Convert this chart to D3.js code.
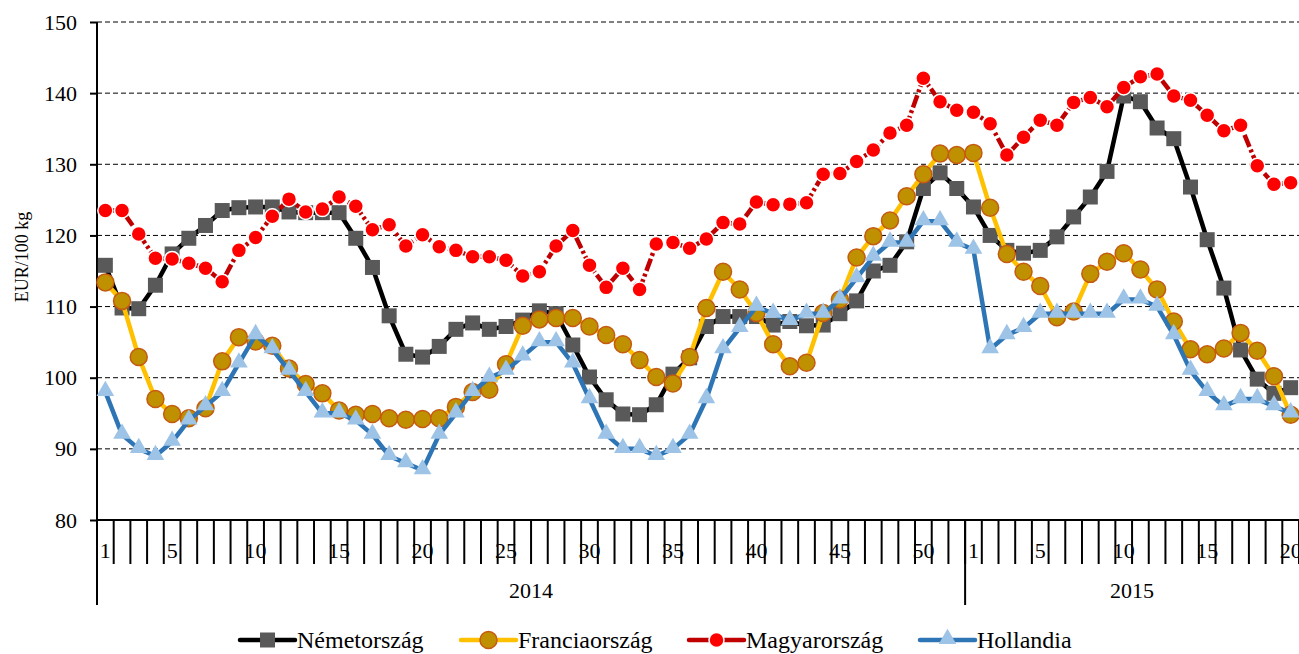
<!DOCTYPE html>
<html>
<head>
<meta charset="utf-8">
<script src="https://cdn.jsdelivr.net/npm/d3@7"></script>
<style>
  body { margin: 0; background: #fff; }
  text { font-family: "Liberation Serif", "Times New Roman", serif; fill: #000; }
</style>
</head>
<body>
<script>
var width = 1299, height = 654;

// categories: weeks of 2014 then 2015
const years = ['2014', '2015'];
const weeks2014 = d3.range(1, 53);
const weeks2015 = d3.range(1, 21);
const yTicks = [80, 90, 100, 110, 120, 130, 140, 150];

// series values, EUR/100 kg
const nemetorszag = [115.8, 109.8, 109.7, 113.0, 117.4, 119.6, 121.4, 123.5, 123.9, 124.0,
  124.0, 123.3, 123.2, 123.2, 123.2, 119.6, 115.5, 108.7, 103.3, 102.9,
  104.4, 106.8, 107.7, 106.8, 107.2, 108.1, 109.4, 109.0, 104.6, 100.1,
  96.9, 94.9, 94.8, 96.2, 100.5, 102.8, 107.2, 108.6, 108.6, 108.6,
  107.4, 107.9, 107.3, 107.4, 109.0, 110.8, 115.0, 115.8, 119.1, 126.6,
  128.8, 126.6,
  124.0, 120.0, 117.9, 117.5, 117.9, 119.8, 122.6, 125.4, 129.0, 139.6,
  138.8, 135.1, 133.6, 126.8, 119.4, 112.6, 103.9, 99.8, 97.8, 98.6];
const franciaorszag = [113.4, 110.8, 102.9, 97.0, 94.9, 94.3, 95.7, 102.3, 105.7, 105.1,
  104.5, 101.3, 99.1, 97.8, 95.4, 94.8, 94.9, 94.3, 94.1, 94.2,
  94.3, 95.9, 98.0, 98.3, 101.9, 107.3, 108.2, 108.4, 108.4, 107.2,
  106.0, 104.7, 102.5, 100.1, 99.2, 102.9, 109.8, 114.9, 112.4, 109.1,
  104.7, 101.6, 102.1, 109.1, 111.0, 116.9, 119.9, 122.1, 125.5, 128.6,
  131.5, 131.3,
  131.6, 123.9, 117.4, 114.9, 112.9, 108.5, 109.3, 114.6, 116.3, 117.5,
  115.2, 112.4, 107.9, 104.0, 103.3, 104.1, 106.3, 103.8, 100.2, 94.8];
const magyarorszag = [123.5, 123.5, 120.2, 116.8, 116.7, 116.1, 115.4, 113.5, 117.9, 119.7,
  122.7, 125.1, 123.3, 123.7, 125.4, 124.1, 120.8, 121.5, 118.5, 120.1,
  118.4, 117.9, 117.0, 117.0, 116.5, 114.3, 114.9, 118.5, 120.7, 115.8,
  112.7, 115.4, 112.4, 118.8, 119.0, 118.2, 119.5, 121.8, 121.6, 124.7,
  124.3, 124.4, 124.6, 128.6, 128.7, 130.4, 132.0, 134.4, 135.5, 142.1,
  138.8, 137.6,
  137.3, 135.7, 131.3, 133.8, 136.2, 135.5, 138.7, 139.4, 138.1, 140.8,
  142.3, 142.7, 139.6, 139.0, 136.9, 134.7, 135.5, 129.8, 127.2, 127.4];
const hollandia = [98, 92, 90, 89, 91, 94, 96, 98, 102, 106,
  104, 101, 98, 95, 95, 94, 92, 89, 88, 87,
  92, 95, 98, 100, 101, 103, 105, 105, 102, 97,
  92, 90, 90, 89, 90, 92, 97, 104, 107, 110,
  109, 108, 109, 109, 111, 114, 117, 119, 119, 122,
  122, 119,
  118, 104, 106, 107, 109, 109, 109, 109, 109, 111,
  111, 110, 106, 101, 98, 96, 97, 97, 96, 95];

const seriesNames = ['Németország', 'Franciaország', 'Magyarország', 'Hollandia'];

function main() {
  var cats = weeks2014.map(w => ({ year: years[0], week: w }))
    .concat(weeks2015.map(w => ({ year: years[1], week: w })));
  var idx = d3.range(cats.length);

  var svg = d3.select('body').append('svg')
    .attr('width', width).attr('height', height);

  var margin = { left: 97, right: 0, top: 22, bottom: 134 };
  var xscale = d3.scaleBand().domain(idx).range([margin.left, width - margin.right]);
  var yscale = d3.scaleLinear().domain([80, 150]).range([height - margin.bottom, margin.top]);
  var y0 = yscale(80);

  // dashed gridlines
  svg.append('g').selectAll('line')
    .data(yTicks.filter(v => v > 80))
    .enter().append('line')
    .attr('x1', margin.left).attr('x2', width)
    .attr('y1', d => yscale(d)).attr('y2', d => yscale(d))
    .attr('stroke', '#000').attr('stroke-width', 1)
    .attr('stroke-dasharray', '5,3');

  // y axis
  var y_axis = d3.axisLeft(yscale).tickValues(yTicks).tickSize(7).tickPadding(13);
  var yg = svg.append('g').attr('transform', 'translate(' + margin.left + ',0)').call(y_axis);
  yg.select('.domain').remove();
  yg.selectAll('line').attr('stroke', '#000').attr('stroke-width', 2);
  yg.selectAll('text').style('font-size', '22px').style('font-family', '"Liberation Serif", serif');
  svg.append('line')
    .attr('x1', margin.left).attr('x2', margin.left)
    .attr('y1', margin.top).attr('y2', y0 + 85)
    .attr('stroke', '#000').attr('stroke-width', 2);

  svg.append('text')
    .attr('transform', 'translate(28,257) rotate(-90)')
    .attr('text-anchor', 'middle')
    .style('font-size', '18px')
    .text('EUR/100 kg');

  // x axis: baseline, boundary ticks, week labels
  svg.append('line')
    .attr('x1', margin.left).attr('x2', width)
    .attr('y1', y0).attr('y2', y0)
    .attr('stroke', '#000').attr('stroke-width', 2);
  svg.append('g').selectAll('line')
    .data(idx.concat([cats.length]))
    .enter().append('line')
    .attr('x1', d => d < cats.length ? xscale(d) : xscale(d - 1) + xscale.bandwidth())
    .attr('x2', d => d < cats.length ? xscale(d) : xscale(d - 1) + xscale.bandwidth())
    .attr('y1', y0).attr('y2', y0 + 44)
    .attr('stroke', '#000').attr('stroke-width', 2);
  svg.append('g').selectAll('text')
    .data(idx.filter(i => cats[i].week === 1 || cats[i].week % 5 === 0))
    .enter().append('text')
    .attr('x', d => xscale(d) + xscale.bandwidth() / 2)
    .attr('y', y0 + 38)
    .attr('text-anchor', 'middle')
    .style('font-size', '22px')
    .text(d => cats[d].week);

  // year separator + year labels
  var split = weeks2014.length;
  svg.append('line')
    .attr('x1', xscale(split)).attr('x2', xscale(split))
    .attr('y1', y0).attr('y2', y0 + 85)
    .attr('stroke', '#000').attr('stroke-width', 2);
  svg.append('text')
    .attr('x', (xscale(0) + xscale(split)) / 2).attr('y', y0 + 78)
    .attr('text-anchor', 'middle').style('font-size', '22px').text(years[0]);
  svg.append('text')
    .attr('x', (xscale(split) + width) / 2).attr('y', y0 + 78)
    .attr('text-anchor', 'middle').style('font-size', '22px').text(years[1]);

  var cx = i => xscale(i) + xscale.bandwidth() / 2;
  var line = d3.line().x((d, i) => cx(i)).y(d => yscale(d));

  var styles = [
    { data: nemetorszag, color: '#000000', dash: null, marker: 'square' },
    { data: franciaorszag, color: '#FFC000', dash: null, marker: 'gold' },
    { data: magyarorszag, color: '#C00000', dash: '13,3,3,3', marker: 'red' },
    { data: hollandia, color: '#2E75B6', dash: null, marker: 'tri' }
  ];

  function drawMarker(sel, kind) {
    if (kind === 'square') {
      sel.append('path').attr('d', d3.symbol(d3.symbolSquare, 225)())
        .attr('fill', '#595959');
    } else if (kind === 'gold') {
      sel.append('circle').attr('r', 8.5)
        .attr('fill', '#BF9000').attr('stroke', '#C55A11').attr('stroke-width', 1.5);
    } else if (kind === 'red') {
      sel.append('circle').attr('r', 7.5)
        .attr('fill', '#FF0000').attr('stroke', '#fff').attr('stroke-width', 1.5);
    } else {
      sel.append('path').attr('d', d3.symbol(d3.symbolTriangle, 135)())
        .attr('transform', 'translate(0,-1)')
        .attr('fill', '#9DC3E6');
    }
  }

  styles.forEach(function (s) {
    svg.append('path').datum(s.data)
      .attr('d', line)
      .attr('fill', 'none')
      .attr('stroke', s.color)
      .attr('stroke-width', 4.5)
      .attr('stroke-linejoin', 'round')
      .attr('stroke-dasharray', s.dash);
    var m = svg.append('g').selectAll('g')
      .data(s.data).enter().append('g')
      .attr('transform', (d, i) => 'translate(' + cx(i) + ',' + yscale(d) + ')');
    drawMarker(m, s.marker);
  });

  // legend
  var legendX = [240, 461, 689, 920];
  var lg = svg.append('g').attr('transform', 'translate(0,640)');
  styles.forEach(function (s, i) {
    var g = lg.append('g').attr('transform', 'translate(' + legendX[i] + ',0)');
    g.append('line').attr('x1', 0).attr('x2', 55).attr('y1', 0).attr('y2', 0)
      .attr('stroke', s.color).attr('stroke-width', 4.5).attr('stroke-linecap', 'round');
    var mk = g.append('g').attr('transform', 'translate(27.5,0)');
    drawMarker(mk, s.marker);
    g.append('text').attr('x', 57).attr('y', 8).style('font-size', '24px').text(seriesNames[i]);
  });
}
main();
</script>
</body>
</html>
